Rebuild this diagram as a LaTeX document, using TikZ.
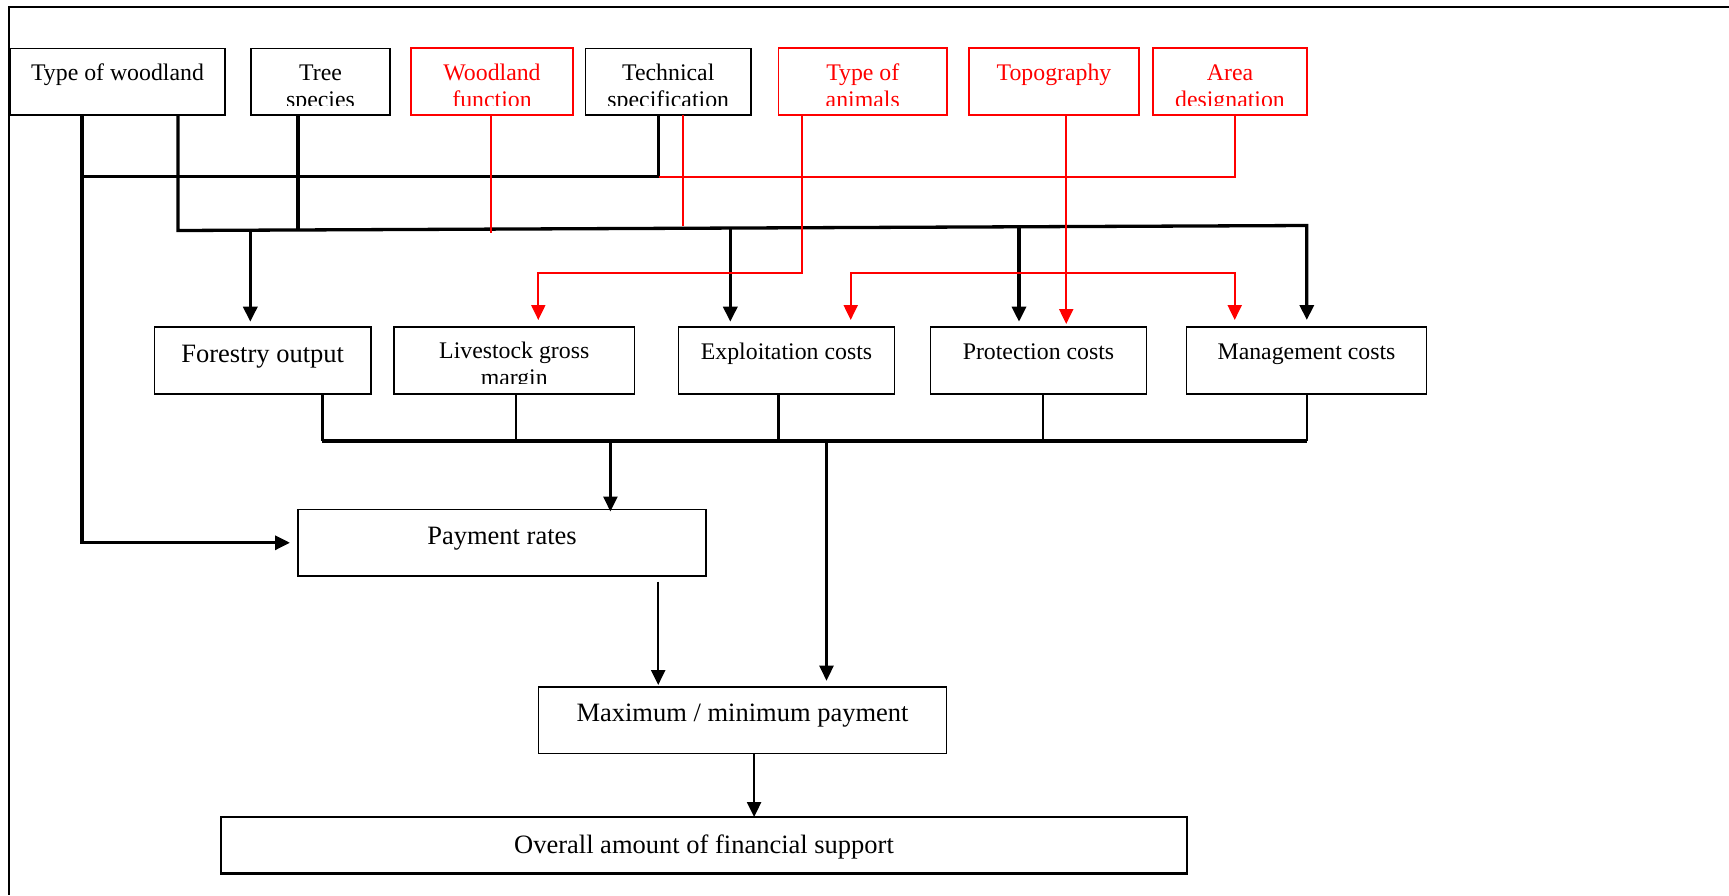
\documentclass[tikz,border=0pt]{standalone}
\usepackage{fontspec}
\setmainfont{Liberation Serif}
\usetikzlibrary{arrows.meta,calc}
\newcommand\mkbox[6]{\node[#6, minimum width={(#4-#2)*1pt}, minimum height={(#5-#3)*1pt}] (#1) at ({(#2+#4)/2},{(#3+#5)/2}) {};}
\begin{document}
\begin{tikzpicture}[x=1pt,y=-1pt,
  bbox/.style={draw=black, line width=1.5pt, inner sep=0pt, outer sep=0pt},
  rbox/.style={draw=red, line width=1.7pt, inner sep=0pt, outer sep=0pt},
  obox/.style={draw=black, line width=2.8pt, inner sep=0pt, outer sep=0pt},
  ttop/.style={anchor=base, inner sep=0pt, align=center, font=\fontsize{23.8}{27}\selectfont},
  tbig/.style={anchor=base, inner sep=0pt, align=center, font=\fontsize{26.5}{30}\selectfont},
  bus/.style={draw=black, line width=3.3pt, line join=miter},
  feed/.style={draw=black, line width=2.5pt},
  rline/.style={draw=red, line width=2.1pt, line join=miter},
  arr/.style={-{Triangle[width=14pt,length=15pt]}}
]
\useasboundingbox (0,0) rectangle (1729,895);
\fill[white] (0,0) rectangle (1729,895);
% frame
\draw[line width=1.8pt] (1729,7.3) -- (8.8,7.3) -- (8.8,895);

% boxes
\mkbox{tw}{10}{48.3}{225}{115}{bbox}
\mkbox{ts}{251}{48.3}{390}{115}{bbox}
\mkbox{wf}{411}{48.3}{573}{115}{rbox}
\mkbox{tsp}{585.5}{48.3}{751}{115}{bbox}
\mkbox{ta}{778.5}{48.3}{947}{115}{rbox}
\mkbox{tp}{969}{48.3}{1139}{115}{rbox}
\mkbox{ad}{1153}{48.3}{1307}{115}{rbox}
\mkbox{fo}{154.3}{327}{371}{394}{bbox}
\mkbox{lg}{394}{327}{634.5}{394}{bbox}
\mkbox{ec}{678.5}{327}{894.5}{394}{bbox}
\mkbox{pc}{930.5}{327}{1146.5}{394}{bbox}
\mkbox{mc}{1186.5}{327}{1426.5}{394}{bbox}
\mkbox{pr}{298}{509.5}{706}{576}{bbox}
\mkbox{mm}{538.5}{687}{946.5}{753.5}{bbox}
\mkbox{oa}{221}{817}{1187}{873.5}{obox}

% top texts (clipped like the original); two-line nodes sit on the baseline of their last line
\begin{scope}
\clip (0,0) rectangle (1729,105.5);
\node[ttop] (twt) at (117.5,80) {Type of woodland};
\node[ttop] (tst) at (320.5,107) {Tree\\species};
\node[ttop,text=red] (wft) at (492,107) {Woodland\\function};
\node[ttop] (tspt) at (668.25,107) {Technical\\specification};
\node[ttop,text=red] (tat) at (862.75,107) {Type of\\animals};
\node[ttop,text=red] (tpt) at (1054,80) {Topography};
\node[ttop,text=red] (adt) at (1230,107) {Area\\designation};
\end{scope}
\begin{scope}
\clip (0,0) rectangle (1729,383.3);
\node[ttop] (lgt) at (514.25,385.3) {Livestock gross\\margin};
\end{scope}
\node[tbig] (fot) at (262.65,362.5) {Forestry output};
\node[ttop] (ect) at (786.5,359) {Exploitation costs};
\node[ttop] (pct) at (1038.5,359) {Protection costs};
\node[ttop] (mct) at (1306.5,359) {Management costs};
\node[tbig] (prt) at (502,544) {Payment rates};
\node[tbig] (mmt) at (742.5,721.7) {Maximum / minimum payment};
\node[tbig] (oat) at (704,853.3) {Overall amount of financial support};

% first bus
\coordinate (b1L) at (82,176.7);
\coordinate (b1M) at (658.7,176.7);
\coordinate (b1R) at (1235.3,176.7);
\draw[bus,arr] ([xshift=-35.5pt]tw.south) |- ([xshift=-8pt]pr.west);
\draw[bus] (b1L) -- (b1M) -- ([xshift=-9.55pt]tsp.south);
\draw[rline] (b1M) -- (b1R) -- ([xshift=5.3pt]ad.south);

% second bus
\coordinate (b2L) at (178,230.5);
\coordinate (b2R) at (1306.8,225.5);
\draw[bus,arr,shorten >=7pt] ([xshift=60.5pt]tw.south) -- (b2L) -- (b2R) -- (b2R |- mc.north);
\draw[bus] ([xshift=-22.5pt]ts.south) -- ++(0,116);
\coordinate (dF) at (250.3,230.2);
\coordinate (dE) at (730.3,228);
\coordinate (dP) at (1019,226.8);
\draw[bus,arr,shorten >=5.3pt] (dF) -- (dF |- fo.north);
\draw[bus,arr,shorten >=5.3pt] (dE) -- (dE |- ec.north);
\draw[bus,arr,shorten >=5.3pt] (dP) -- (dP |- pc.north);

% red connectors
\draw[rline] ([xshift=-1.4pt]wf.south) -- ++(0,118);
\draw[rline] ([xshift=14.35pt]tsp.south) -- ++(0,110.7);
\coordinate (ra) at (538.3,273.3);
\draw[rline,arr,shorten >=7pt] ([xshift=-60.35pt]ta.south) |- (ra) -- (ra |- lg.north);
\coordinate (rb1) at (850.7,273.3);
\coordinate (rb2) at (1234.7,273.3);
\draw[rline,arr,shorten >=7pt] (rb2) -- (rb1) -- (rb1 |- ec.north);
\draw[rline,arr,shorten >=7pt] (rb1) -- (rb2) -- (rb2 |- mc.north);
\draw[rline,arr,shorten >=3pt] ([xshift=12.2pt]tp.south) -- ([xshift=12.2pt]tp.south |- pc.north);

% lower bus
\coordinate (bL) at (322.4,441);
\coordinate (bR) at (1306.8,441);
\draw[feed] ([xshift=59.75pt]fo.south) -- (bL);
\draw[feed] ([xshift=1.75pt]lg.south) -- ([xshift=1.75pt]lg.south |- bL);
\draw[feed] ([xshift=-7.9pt]ec.south) -- ([xshift=-7.9pt]ec.south |- bL);
\draw[feed] ([xshift=4.5pt]pc.south) -- ([xshift=4.5pt]pc.south |- bL);
\draw[feed] ([xshift=0.3pt]mc.south) -- (bR);
\draw[bus] (bL) -- (bR);
\coordinate (bp) at (610.4,441);
\coordinate (bm) at (826.5,441);
\draw[feed,arr,shorten >=-2pt] (bp) -- (bp |- pr.north);
\draw[feed,arr,shorten >=6.3pt] (bm) -- (bm |- mm.north);
\coordinate (pm) at (658.2,0);
\draw[feed,arr,shorten <=5.7pt,shorten >=2pt] (pr.south -| pm) -- (pm |- mm.north);
\draw[feed,arr] ([xshift=11.6pt]mm.south) -- ([xshift=11.6pt]mm.south |- oa.north);
\end{tikzpicture}
\end{document}
